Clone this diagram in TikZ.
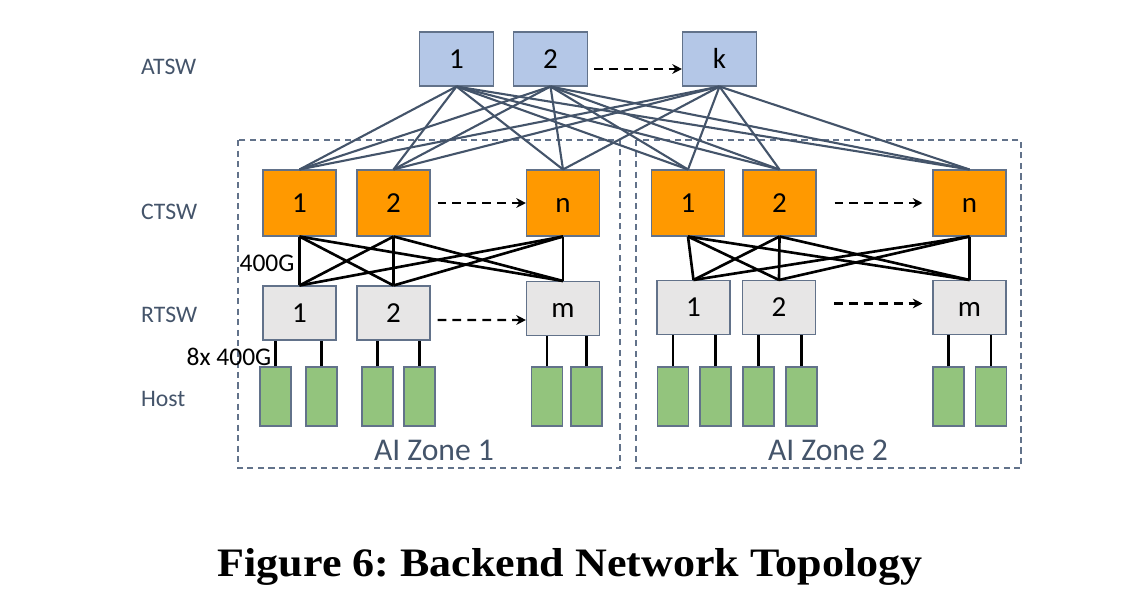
\documentclass[tikz,border=0pt]{standalone}
\usepackage{fontspec}
\setmainfont{Carlito}
\newfontfamily\capfont[FakeStretch=1.09]{Liberation Serif}
\usetikzlibrary{positioning,arrows.meta,calc}

\definecolor{textblue}{HTML}{44546A}
\definecolor{boxline}{HTML}{62728A}
\definecolor{atswfill}{HTML}{B4C7E7}
\definecolor{ctswfill}{HTML}{FF9900}
\definecolor{rtswfill}{HTML}{E7E6E6}
\definecolor{hostfill}{HTML}{93C47D}

\tikzset{
  sw/.style={draw=boxline,line width=0.6pt,inner sep=0pt,text height=10.4pt,text depth=0pt,font=\fontsize{16.5}{19}\selectfont},
  atsw/.style={sw,fill=atswfill,minimum width=1.48cm,minimum height=1.08cm},
  ctsw/.style={sw,fill=ctswfill,minimum width=1.46cm,minimum height=1.32cm},
  rtsw/.style={sw,fill=rtswfill,minimum width=1.46cm,minimum height=1.08cm},
  host/.style={draw=boxline,line width=0.6pt,fill=hostfill,minimum width=0.62cm,minimum height=1.18cm,inner sep=0pt},
  uplink/.style={draw=textblue,line width=1.2pt},
  link/.style={draw=black,line width=1.5pt},
  more/.style={draw=black,dash pattern=on 5pt off 3.5pt,line width=1.3pt,-{Stealth[length=5.5pt,width=5.5pt]}},
  zone/.style={draw=boxline,dash pattern=on 3.5pt off 2.5pt,line width=0.85pt},
  level/.style={anchor=west,text=textblue,font=\fontsize{13.5}{16}\selectfont},
  speed/.style={font=\fontsize{14.5}{17}\selectfont}
}

\begin{document}
\begin{tikzpicture}[x=0.02cm,y=-0.02cm]
  \useasboundingbox (0,0) rectangle (1134,616);

  % AI zones
  \draw[zone] (238,140) rectangle (620,468);
  \draw[zone] (636,140) rectangle (1021,468);
  \node[text=textblue,font=\fontsize{18}{21}\selectfont] (zone1) at (434,450) {AI Zone 1};
  \node[text=textblue,font=\fontsize{18}{21}\selectfont] (zone2) at (828,450) {AI Zone 2};

  % level names
  \node[level] (latsw) at (135,67) {ATSW};
  \node[level] (lctsw) at (135,212) {CTSW};
  \node[level] (lrtsw) at (135,315) {RTSW};
  \node[level] (lhost) at (135,399) {Host};

  % ATSW
  \node[atsw] (a1) at (456.5,59) {1};
  \node[atsw] (a2) at (550.5,59) {2};
  \node[atsw] (ak) at (719.5,59) {k};
  \draw[more] ([xshift=0.12cm,yshift=-0.2cm]a2.east) -- ([yshift=-0.2cm]ak.west);

  % CTSW
  \node[ctsw] (c11) at (299.5,203) {1};
  \node[ctsw] (c12) at (393.5,203) {2};
  \node[ctsw] (c1n) at (563,203) {n};
  \node[ctsw] (c21) at (688,203) {1};
  \node[ctsw] (c22) at (779.5,203) {2};
  \node[ctsw] (c2n) at (969.5,203) {n};
  \draw[more] ([xshift=0.14cm]c12.east) -- (c1n.west);
  \draw[more] ([xshift=0.36cm]c22.east) -- ([xshift=-0.2cm]c2n.west);

  % RTSW
  \node[rtsw] (r11) at (299.5,313) {1};
  \node[rtsw] (r12) at (393.5,313) {2};
  \node[rtsw] (r1m) at (563,308.5) {m};
  \node[rtsw] (r21) at (693.5,307.5) {1};
  \node[rtsw] (r22) at (779,307.5) {2};
  \node[rtsw] (r2m) at (969.5,307.5) {m};
  \draw[more] ([xshift=0.14cm,yshift=-0.14cm]r12.east) -- ([yshift=-0.23cm]r1m.west);
  \draw[more] ([xshift=0.36cm,yshift=0.08cm]r22.east) -- ([xshift=-0.2cm,yshift=0.08cm]r2m.west);

  % ATSW to CTSW
  \foreach \a in {a1,a2,ak}
    \foreach \c in {c11,c12,c1n,c21,c22,c2n}
      \draw[uplink] (\a.south) -- (\c.north);

  % CTSW to RTSW
  \foreach \z in {1,2}
    \foreach \c in {1,2,n}
      \foreach \r in {1,2,m}
        \draw[link] (c\z\c.south) -- (r\z\r.north);
  \node[speed] (s400) at (267,263) {400G};

  % hosts
  \foreach \h/\x/\r in {11/275.5/r11,12/321.5/r11,13/377.5/r12,14/419.5/r12,15/547/r1m,16/586.5/r1m,
                        21/673/r21,22/715.5/r21,23/758.5/r22,24/801.5/r22,25/948.5/r2m,26/991/r2m}{
    \node[host] (h\h) at (\x,396.5) {};
    \draw[link] (h\h.north) -- (h\h.north |- \r.south);
  }
  \node[speed] (s8x) at (229,357) {8x 400G};

  \node[font=\capfont\bfseries\fontsize{23}{26}\selectfont] (caption) at (570,567) {Figure 6:\ Backend Network Topology};
\end{tikzpicture}
\end{document}
